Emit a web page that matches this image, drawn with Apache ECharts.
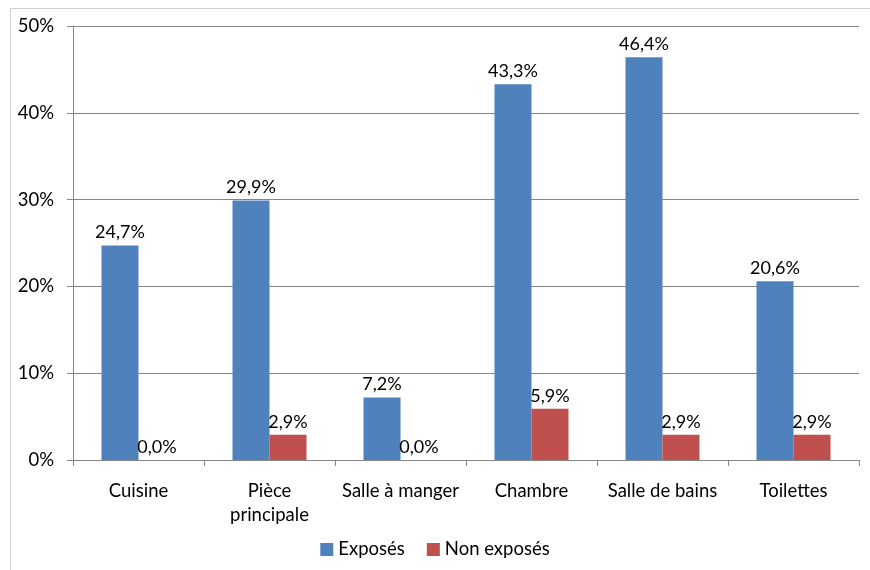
<!DOCTYPE html>
<html><head><meta charset="utf-8">
<script src="https://cdn.jsdelivr.net/npm/echarts@6/dist/echarts.min.js"></script>
<style>html,body{margin:0;padding:0;background:#fff}#c{width:870px;height:570px}</style>
</head><body><div id="c"></div>
<script>
var categories = ['Cuisine', 'Pièce\nprincipale', 'Salle à manger', 'Chambre', 'Salle de bains', 'Toilettes'];
var exposes = [24.7, 29.9, 7.2, 43.3, 46.4, 20.6];
var nonExposes = [0.0, 2.9, 0.0, 5.9, 2.9, 2.9];
var seriesNames = ['Exposés', 'Non exposés'];
var FONT = 'Lato';
var FS = 18.5;
var chart = echarts.init(document.getElementById('c'));
function fmt(p){ return p.value.toFixed(1).replace('.', ',') + '%'; }
var label = {show:true, position:'top', formatter:fmt, color:'#000', fontFamily:FONT, fontSize:18, distance:4};
chart.setOption({
  animation:false,
  textStyle:{fontFamily:FONT},
  graphic:[{type:'rect', shape:{x:10.5,y:8.5,width:900,height:600}, style:{fill:'none', stroke:'#d0d0d0', lineWidth:1}, z:-1}],
  legend:{bottom:6, left:'center', itemWidth:13, itemHeight:13, itemGap:22, icon:'rect',
    textStyle:{fontFamily:FONT, fontSize:FS, color:'#000'}, data:seriesNames},
  grid:{left:73, right:11, top:26, bottom:110, containLabel:false},
  xAxis:{type:'category', data:categories,
    axisLine:{lineStyle:{color:'#868686'}},
    axisTick:{show:true, length:6, lineStyle:{color:'#868686'}},
    axisLabel:{color:'#000', fontFamily:FONT, fontSize:FS, margin:19, lineHeight:24, interval:0}},
  yAxis:{type:'value', min:0, max:50, interval:10,
    axisLine:{show:true, lineStyle:{color:'#868686'}},
    axisTick:{show:true, length:6, lineStyle:{color:'#868686'}},
    splitLine:{lineStyle:{color:'#868686'}},
    axisLabel:{formatter:'{value}%', color:'#000', fontFamily:FONT, fontSize:FS, margin:19}},
  series:[
    {name:seriesNames[0], type:'bar', data:exposes, barWidth:37, barGap:'0%', itemStyle:{color:'#4F81BD'}, label:label},
    {name:seriesNames[1], type:'bar', data:nonExposes, barWidth:37, barGap:'0%', itemStyle:{color:'#C0504D'}, label:label}
  ]
});
</script></body></html>
